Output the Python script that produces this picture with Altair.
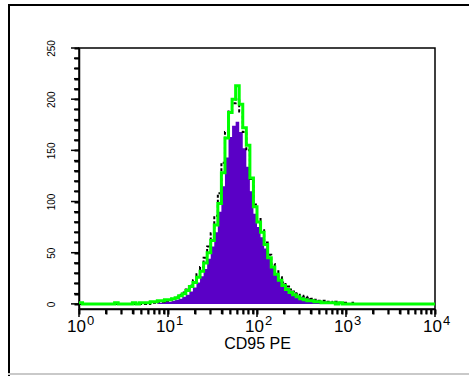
import altair as alt
import numpy as np
import pandas as pd

# ---- data (counts per bin, bins of 0.04 decade from 10^0) ----
BIN_DECADES = 0.04
green = [1, 0, 0, 0, 0, 0, 0, 0, 0, 0,
         1, 0, 0, 0, 0, 1, 0, 1, 1, 1,
         2, 2, 3, 3, 4, 4, 5, 6, 8, 10,
         13, 17, 21, 26, 32, 40, 50, 62, 77, 98,
         128, 162, 187, 200, 213, 195, 172, 155, 123, 95,
         80, 70, 58, 45, 36, 29, 23, 18, 14, 11,
         9, 7, 5, 4, 3, 3, 2, 2, 1, 1,
         1, 1, 0, 1, 0, 0, 0, 0, 0, 0,
         0, 0, 0, 0, 0, 0, 0, 0, 0, 0,
         0, 0, 0, 0, 0, 0, 0, 0, 0, 0]
black = [0, 0, 0, 0, 0, 0, 0, 0, 0, 0,
         0, 0, 0, 0, 0, 0, 0, 0, 0, 0,
         1, 1, 2, 2, 3, 4, 5, 7, 9, 11,
         14, 18, 23, 29, 36, 45, 56, 69, 86, 108,
         138, 168, 188, 196, 200, 188, 168, 150, 122, 97,
         83, 72, 60, 48, 39, 32, 26, 21, 17, 14,
         12, 10, 8, 7, 6, 5, 4, 3, 3, 2,
         2, 1, 2, 1, 1, 0, 1, 0, 0, 0,
         0, 0, 0, 0, 0, 0, 0, 0, 0, 0,
         0, 0, 0, 0, 0, 0, 0, 0, 0, 0]
purple = [0, 0, 0, 0, 0, 0, 0, 0, 0, 0,
          0, 0, 0, 0, 0, 0, 0, 0, 0, 0,
          0, 0, 1, 1, 2, 2, 3, 4, 5, 7,
          9, 12, 16, 21, 27, 34, 44, 56, 70, 90,
          115, 143, 163, 174, 178, 168, 152, 134, 110, 88,
          75, 65, 54, 44, 36, 29, 23, 19, 15, 12,
          10, 8, 7, 6, 5, 4, 3, 3, 2, 2,
          1, 1, 1, 1, 0, 0, 0, 0, 0, 0,
          0, 0, 0, 0, 0, 0, 0, 0, 0, 0,
          0, 0, 0, 0, 0, 0, 0, 0, 0, 0]
y_ticks = list(range(0, 251, 10))
y_major_step = 50
x_decades = [0, 1, 2, 3, 4]
x_title = "CD95 PE"

# ---- tables ----
n = len(green)
edges = 10 ** (np.arange(n + 1) * BIN_DECADES)


def series(vals):
    return pd.DataFrame({"x": edges, "count": list(vals) + [vals[-1]]})


x_major = [10 ** e for e in x_decades]
x_minor = [m * 10 ** k for k in x_decades[:-1] for m in range(2, 10)]
lab_df = pd.DataFrame({"x": x_major,
                       "base": ["10"] * len(x_decades),
                       "exp": [str(e) for e in x_decades]})
xmaj_df = pd.DataFrame({"x": x_major})
xmin_df = pd.DataFrame({"x": x_minor})
ymaj_df = pd.DataFrame({"count": [v for v in y_ticks if v % y_major_step == 0]})
ymin_df = pd.DataFrame({"count": [v for v in y_ticks if v % y_major_step != 0]})

W, H = 356, 261
FONT = "Liberation Sans"
xs = alt.Scale(type="log", domain=[1, 10000])
ys = alt.Scale(domain=[-5, 250], nice=False, zero=False)

x_axis = alt.Axis(values=x_major + x_minor, labels=False, title=x_title)
y_axis = alt.Axis(values=y_ticks, title=None,
                  labelExpr="datum.value % 50 == 0 ? datum.label : ''")


def X(): return alt.X("x:Q", scale=xs, axis=x_axis)
def Y(): return alt.Y("count:Q", scale=ys, axis=y_axis)


area = alt.Chart(series(purple)).mark_area(interpolate="step-after", color="#5a00c6").encode(
    x=X(), y=Y())
blk = alt.Chart(series(black)).mark_line(interpolate="step-after", color="black",
                                         strokeWidth=2, strokeDash=[3, 2]).encode(x=X(), y=Y())
grn = alt.Chart(series(green)).mark_line(interpolate="step-after", color="#00ff00",
                                         strokeWidth=3).encode(x=X(), y=Y())

# tick marks (major / minor) drawn as small tick rects positioned through the scales
ytick_maj = alt.Chart(ymaj_df).mark_tick(color="black", opacity=1, thickness=1.5, size=8,
                                         orient="horizontal").encode(y=Y(), x=alt.value(-4))
ytick_min = alt.Chart(ymin_df).mark_tick(color="black", opacity=1, thickness=1.5, size=5,
                                         orient="horizontal").encode(y=Y(), x=alt.value(-2.5))
xtick_maj = alt.Chart(xmaj_df).mark_tick(color="black", opacity=1, thickness=1.5, size=8,
                                         orient="vertical").encode(x=X(), y=alt.value(H + 4))
xtick_min = alt.Chart(xmin_df).mark_tick(color="black", opacity=1, thickness=1.5, size=5,
                                         orient="vertical").encode(x=X(), y=alt.value(H + 2.5))

base_lab = alt.Chart(lab_df).mark_text(align="right", dx=7, baseline="alphabetic",
                                       font=FONT, fontSize=17, color="black").encode(
    x=X(), y=alt.value(284), text="base:N")
exp_lab = alt.Chart(lab_df).mark_text(align="left", dx=8, baseline="alphabetic",
                                      font=FONT, fontSize=13, color="black").encode(
    x=X(), y=alt.value(277), text="exp:N")

# outer window frame
frame_top = alt.Chart(lab_df).mark_rule(color="black", strokeWidth=2).encode(
    x=alt.value(-71), x2=alt.value(400), y=alt.value(-43))
frame_left = alt.Chart(lab_df).mark_rule(color="black", strokeWidth=2).encode(
    x=alt.value(-70), y=alt.value(-44), y2=alt.value(328))
frame_bottom = alt.Chart(lab_df).mark_rule(color="#c8c8c8", strokeWidth=1.5).encode(
    x=alt.value(-71), x2=alt.value(400), y=alt.value(326))

chart = alt.layer(area, blk, grn, ytick_maj, ytick_min, xtick_maj, xtick_min,
                  base_lab, exp_lab, frame_top, frame_left, frame_bottom).properties(
    width=W, height=H,
    padding={"left": 79, "top": 48, "right": 34, "bottom": 67},
    autosize=alt.AutoSizeParams(type="none"),
    background="white",
).configure_view(
    stroke="black", strokeWidth=1.5
).configure_axis(
    grid=False, ticks=True, tickColor="black", tickWidth=2, domainColor="black",
    domainWidth=1.5, labelOverlap=False, labelFlush=False, labelBound=False,
    labelFont=FONT, labelColor="black",
).configure_axisX(
    tickSize=5, titleFont=FONT, titleFontSize=16, titleFontWeight="normal",
    titleColor="black", titleY=39, titleBaseline="alphabetic",
).configure_axisY(
    tickSize=5, labelAngle=270, labelAlign="center", labelBaseline="bottom",
    labelFontSize=10, labelPadding=18,
)

chart.save("out.html", embed_options={"renderer": "svg", "actions": False})
